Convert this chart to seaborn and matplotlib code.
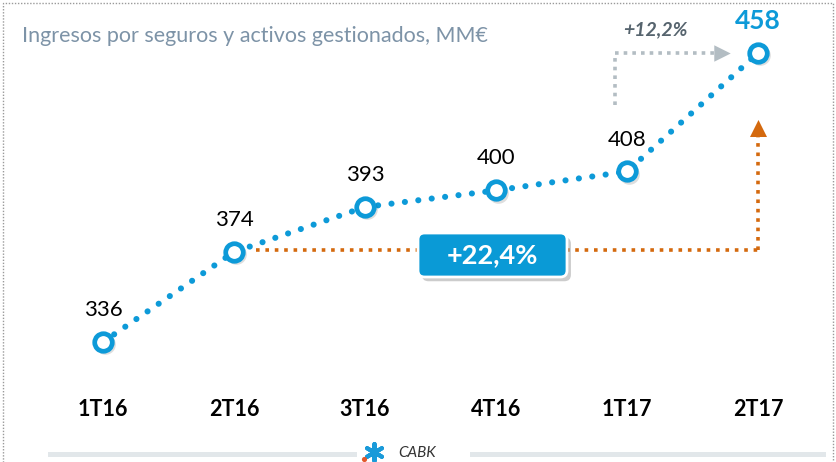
import matplotlib
matplotlib.use("Agg")
import matplotlib.pyplot as plt
import matplotlib.transforms as mtransforms
from matplotlib.patches import FancyBboxPatch, Rectangle
import seaborn as sns
import pandas as pd

quarters = ["1T16", "2T16", "3T16", "4T16", "1T17", "2T17"]
ingresos = [336, 374, 393, 400, 408, 458]
growth_total = "+22,4%"
growth_last = "+12,2%"
title = "Ingresos por seguros y activos gestionados, MM€"

BLUE = "#0d9ad8"
ORANGE = "#d4690e"
GREY_ARROW = "#b3bdc3"

sns.set_theme(style="white")
plt.rcParams["font.family"] = ["Lato", "DejaVu Sans"]

df = pd.DataFrame({"x": range(len(quarters)), "q": quarters, "v": ingresos})

# pixel scale of the data axes
PX_X = 131
PX_Y = 90 / 38
ASPECT = PX_X / PX_Y

fig = plt.figure(figsize=(8.36, 4.62), dpi=100)
ax = fig.add_axes([0, 0, 1, 1])
ax.set_xlim(-103 / PX_X, (836 - 103) / PX_X)
ax.set_ylim(336 - 120 / PX_Y, 336 + 342 / PX_Y)
ax.axis("off")


def px(x, y):
    # convert reference pixel position to data coordinates
    return (x - 103) / PX_X, 336 + (342 - y) / PX_Y


# dotted frame around the slide panel
fig.patches.append(Rectangle((0.004, -0.01), 0.992, 1.0035,
                             transform=fig.transFigure, fill=False,
                             edgecolor="#9a9a9a", linewidth=1.0,
                             linestyle=(0, (1, 1.2))))

# main dotted line
sns.lineplot(data=df, x="x", y="v", ax=ax, color=BLUE, linewidth=4.4,
             linestyle=(0, (0.01, 2.2)), zorder=3)
for line in ax.lines:
    line.set_dash_capstyle("round")

# hollow markers with light shadow
ax.scatter(df["x"] + 0.015, df["v"] - 1.0, s=220, color="#000000", alpha=0.13,
           linewidths=0, zorder=4)
ax.scatter(df["x"], df["v"], s=160, facecolor="white", edgecolor=BLUE,
           linewidths=3.4, zorder=5)

# value labels
for i, v in enumerate(ingresos):
    last = i == len(ingresos) - 1
    ax.annotate(str(v), (i, v), xytext=(0, 23), textcoords="offset points",
                ha="center", va="center",
                fontsize=19 if last else 16,
                fontweight="bold" if last else "normal",
                color=BLUE if last else "black", zorder=6)

# category labels
tr = mtransforms.blended_transform_factory(ax.transData, fig.transFigure)
for i, q in enumerate(quarters):
    ax.text(i, 1 - 410 / 462, q, transform=tr, ha="center", va="center",
            fontsize=15.5, fontweight="bold", color="black")

# title
fig.text(22 / 836, 1 - 36 / 462, title, ha="left", va="center",
         fontsize=15.5, color="#7d93a7")

# orange growth bracket 2T16 -> 2T17
y_h = ingresos[1] + 0.8
x0 = 1 + 22 / PX_X
ax.plot([x0, 5], [y_h, y_h], color=ORANGE, linewidth=2.6,
        linestyle=(0, (1, 1.6)), zorder=2)
ax.plot([5, 5], [y_h, ingresos[5] - 35], color=ORANGE, linewidth=2.6,
        linestyle=(0, (1, 1.6)), zorder=2)
ax.scatter([5], [ingresos[5] - 31.5], marker="^", s=150, color=ORANGE,
           linewidths=0, zorder=2)

# growth box
bx0, by0 = px(418, 277)
bw = (567 - 418) / PX_X
bh = 44 / PX_Y
shadow = FancyBboxPatch((bx0 + 0.03, by0 - 1.8), bw, bh,
                        boxstyle="round,pad=0,rounding_size=0.05",
                        facecolor="black", alpha=0.2, edgecolor="none",
                        mutation_aspect=ASPECT, zorder=6)
ax.add_patch(shadow)
box = FancyBboxPatch((bx0, by0), bw, bh,
                     boxstyle="round,pad=0,rounding_size=0.05",
                     facecolor="#0a9ad6", edgecolor="white", linewidth=2,
                     mutation_aspect=ASPECT, zorder=7)
ax.add_patch(box)
ax.text(bx0 + bw / 2, by0 + bh / 2, growth_total, ha="center", va="center",
        fontsize=19.5, fontweight="bold", color="white", zorder=8)

# grey arrow 1T17 -> 2T17
gx, gy_top = px(615, 53)
_, gy_bot = px(615, 105)
gx_end, _ = px(715, 53)
ax.plot([gx, gx], [gy_bot, gy_top], color=GREY_ARROW, linewidth=2.6,
        linestyle=(0, (1, 1.4)), zorder=2)
ax.plot([gx, gx_end], [gy_top, gy_top], color=GREY_ARROW, linewidth=2.6,
        linestyle=(0, (1, 1.4)), zorder=2)
ax.scatter([px(722, 53)[0]], [gy_top], marker=">", s=140,
           color=GREY_ARROW, linewidths=0, zorder=2)
tx, ty = px(655, 30)
ax.text(tx, ty, growth_last, ha="center", va="center", fontsize=14,
        fontweight="bold", fontstyle="italic", color="#56646e")

# footer bars and logo
fig.patches.append(Rectangle((48 / 836, 1 - 457 / 462), (357 - 48) / 836,
                             5 / 462, transform=fig.transFigure,
                             facecolor="#e2e7ea", edgecolor="none"))
fig.patches.append(Rectangle((470 / 836, 1 - 457 / 462), (826 - 470) / 836,
                             5 / 462, transform=fig.transFigure,
                             facecolor="#e2e7ea", edgecolor="none"))
lx, ly = px(374, 452)
ax.scatter([lx], [ly], marker=(6, 2, 0), s=150, color="#1a9ad9",
           linewidths=3, zorder=9, clip_on=False)
dx, dy = px(364, 459)
ax.scatter([dx], [dy], marker="o", s=14, color="#e2572b", linewidths=0,
           zorder=10, clip_on=False)
fig.text(398 / 836, 1 - 453 / 462, "CABK", ha="left", va="center",
         fontsize=11, fontstyle="italic", color="#333333")

fig.savefig("out.png", dpi=100)
